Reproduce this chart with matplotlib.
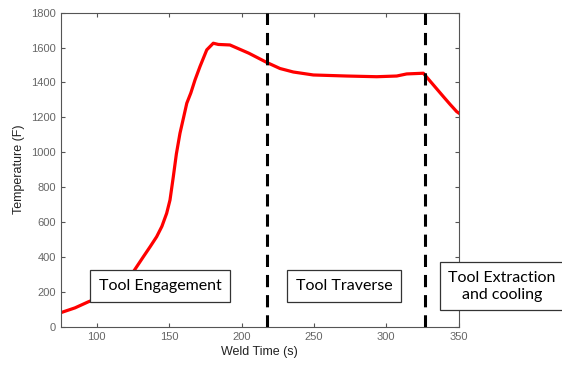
import numpy as np
import matplotlib.pyplot as plt

# weld temperature trace
weld_time = [75, 85, 94, 106, 117, 125.3, 132.2, 137, 141.4, 145, 148.3,
             150.6, 152.9, 155, 157.5, 160, 162.2, 165, 167.9, 171.3, 176,
             180.5, 184, 192, 205, 217.4, 226.6, 235.8, 249.6, 272.7,
             293.4, 307.2, 314.1, 325.6, 332.5, 339.4, 344, 348.6, 350]
temperature = [80, 108, 142, 182, 240, 315, 401, 460, 516, 575, 650,
               726, 860, 990, 1109, 1200, 1281, 1340, 1415, 1491, 1587,
               1625, 1618, 1615, 1568, 1515, 1480, 1460, 1443, 1437,
               1433, 1437, 1449, 1453, 1386, 1319, 1275, 1233, 1225]

phase_bounds = [217.4, 326.7]
phase_labels = ['Tool Engagement', 'Tool Traverse',
                'Tool Extraction\nand cooling']
label_x = [143.7, 271, 380]
label_y = 232

plt.rcParams['font.family'] = 'Liberation Sans'

fig = plt.figure(figsize=(5.62, 3.68), dpi=100)
ax = fig.add_axes([0.1077, 0.1122, 0.7085, 0.8533])

ax.plot(weld_time, temperature, c='#ff0000', lw=2.3, zorder=2)
for xb in phase_bounds:
    ax.axvline(xb, c='k', lw=2.2, ls=(0, (4, 2.6)), zorder=3)

for txt, xt in zip(phase_labels, label_x):
    ax.text(xt, label_y, txt, ha='center', va='center', fontsize=11.5,
            family='Lato', zorder=4, clip_on=False, linespacing=1.25,
            bbox=dict(boxstyle='square,pad=0.55', fc='white', ec='#333333',
                      lw=0.9))

ax.set_xlim([75, 350])
ax.set_ylim([0, 1800])
ax.set_xticks(np.arange(100, 351, 50))
ax.set_yticks(np.arange(0, 1801, 200))
ax.tick_params(direction='in', top=True, right=True, length=3,
               color='#555555', labelcolor='#666666', labelsize=8)
for s in ax.spines.values():
    s.set_color('#555555')
    s.set_linewidth(0.8)
ax.set_xlabel('Weld Time (s)', fontsize=9, color='#222222', labelpad=3)
ax.set_ylabel('Temperature (F)', fontsize=9, color='#222222', labelpad=4)

plt.savefig('out.png', dpi=100)
